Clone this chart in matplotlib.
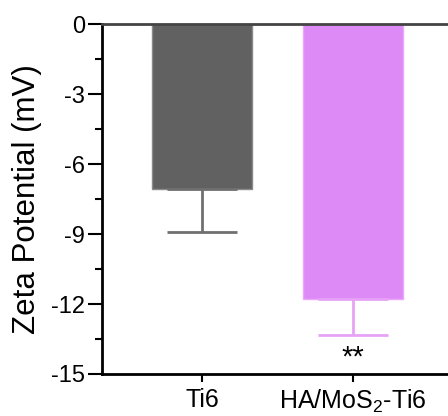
import matplotlib
matplotlib.use("Agg")
import matplotlib.pyplot as plt
from matplotlib.ticker import MultipleLocator

plt.rcParams["font.family"] = ["Liberation Sans", "DejaVu Sans"]
plt.rcParams["mathtext.fontset"] = "custom"
plt.rcParams["mathtext.rm"] = "Liberation Sans"

# data
groups = ["Ti6", r"HA/MoS$_\mathrm{2}$-Ti6"]
means = [-7.05, -11.8]
errs = [1.85, 1.55]
sig = ["", "**"]
bar_colors = ["#616161", "#DD8AF7"]
edge_colors = ["#8a8a8a", "#EBA8F8"]
err_colors = ["#707070", "#E7A2F6"]

fig = plt.figure(figsize=(4.48, 4.16), dpi=100)
ax = fig.add_axes([0.2277, 0.101, 0.7813, 0.841])

x = list(range(len(groups)))
for i in x:
    ax.bar(i, means[i], width=0.664, color=bar_colors[i],
           edgecolor=edge_colors[i], linewidth=1, zorder=2)
    ax.errorbar(i, means[i], yerr=[[errs[i]], [0]], fmt="none",
                ecolor=err_colors[i], elinewidth=2, capsize=25,
                capthick=2, zorder=3)
    if sig[i]:
        ax.text(i, means[i] - errs[i] - 0.35, sig[i], ha="center",
                va="top", fontsize=21)

ax.set_xlim(-0.664, 1.661)
ax.set_ylim(-15, 0)
ax.yaxis.set_major_locator(MultipleLocator(3))
ax.yaxis.set_minor_locator(MultipleLocator(1.5))
ax.set_yticks([0, -3, -6, -9, -12, -15])
ax.set_yticklabels(["0", "-3", "-6", "-9", "-12", "-15"], fontsize=17)
ax.set_xticks(x)
ax.set_xticklabels(groups, fontsize=18)
ax.set_ylabel("Zeta Potential (mV)", fontsize=22.5, labelpad=7)

for side in ["left", "bottom"]:
    ax.spines[side].set_linewidth(2)
    ax.spines[side].set_color("black")
ax.spines["top"].set_linewidth(2)
ax.spines["top"].set_color("#444444")
ax.spines["right"].set_visible(False)

ax.tick_params(axis="y", which="major", direction="out", length=10,
               width=1.5, pad=2)
ax.tick_params(axis="y", which="minor", direction="out", length=5,
               width=1.5)
ax.tick_params(axis="x", direction="out", length=6, width=1.5, pad=4)

fig.savefig("out.png", dpi=100)
